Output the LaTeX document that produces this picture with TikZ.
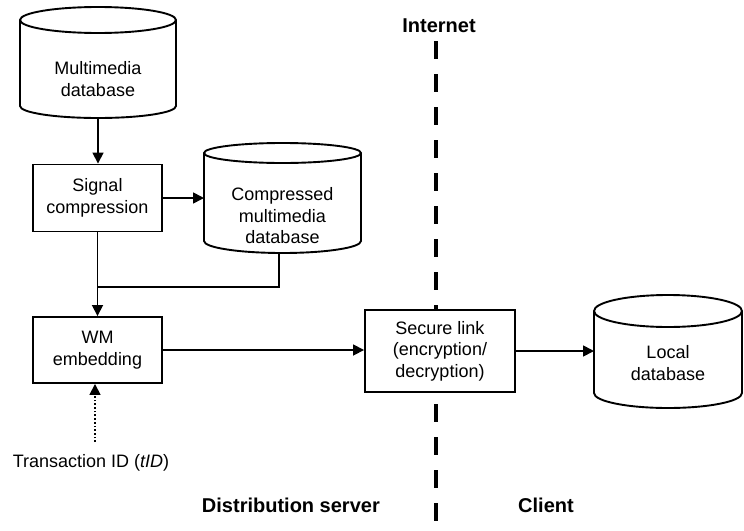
\documentclass[tikz,border=0pt]{standalone}
\usepackage{fontspec}
\setmainfont{Liberation Sans}
\usetikzlibrary{arrows.meta,calc}
\newcommand\dgreg{\fontsize{18}{21.5}\selectfont}
\newcommand\dgbold{\fontsize{20}{24}\selectfont\bfseries}
\newcommand\drawcyl[3]{%
  \draw[cylline] let \p1=(#1.north west), \p2=(#1.south east), \n1={(\x2-\x1)/2} in
    (\x1,\y1-#2) -- (\x1,\y2+#3)
    arc[start angle=180,end angle=360,x radius=\n1,y radius=#3]
    -- (\x2,\y1-#2)
    arc[start angle=0,end angle=180,x radius=\n1,y radius=#2] -- cycle
    (\x1,\y1-#2) arc[start angle=180,end angle=360,x radius=\n1,y radius=#2];%
}
\begin{document}
\begin{tikzpicture}[x=1pt,y=1pt,
  box/.style={draw, line width=1.9pt, fill=white, inner sep=0pt, align=center, font=\dgreg},
  body/.style={draw=none, inner sep=0pt, outer sep=0pt},
  cylline/.style={draw, line width=1.9pt, fill=white},
  txt/.style={align=center, font=\dgreg, inner sep=0pt},
  lbl/.style={font=\dgbold, inner sep=0pt},
  conn/.style={line width=1.7pt, -{Triangle[length=11pt,width=11pt]}},
  plain/.style={line width=1.7pt},
  dotconn/.style={line width=1.7pt, dotted, -{Triangle[length=11pt,width=11pt]}},
  netline/.style={line width=4pt, dash pattern=on 18pt off 15pt}
]
\useasboundingbox (0,0) rectangle (744,-530);

% internet boundary
\coordinate (nettop) at (436,-41);
\coordinate (netbot) at (436,-530);
\draw[netline] (nettop) -- (netbot);
\node[lbl] (internet) at (439,-26) {Internet};

% multimedia database
\node[body, minimum width=156pt, minimum height=111pt] (mmdb) at (98,-62.5) {};
\drawcyl{mmdb}{13pt}{12pt}
\node[txt] (mmdbt) at (98,-79) {Multimedia\\database};

% signal compression
\node[box, minimum width=129pt, minimum height=67pt] (sc) at (97.5,-198) {Signal\\compression};

% compressed multimedia database
\node[body, minimum width=157pt, minimum height=110pt] (cdb) at (282.5,-198) {};
\drawcyl{cdb}{10pt}{12pt}
\node[txt] (cdbt) at (282.5,-216) {Compressed\\multimedia\\database};

% WM embedding
\node[box, minimum width=129pt, minimum height=66pt] (wm) at (97.5,-350) {WM\\embedding};

% secure link
\node[box, minimum width=150pt, minimum height=82pt] (sl) at (440,-351) {Secure link\\(encryption/\\decryption)};

% local database
\node[body, minimum width=148pt, minimum height=113pt] (ldb) at (668,-351.5) {};
\drawcyl{ldb}{16pt}{15pt}
\node[txt] (ldbt) at (668,-363) {Local\\database};

% transaction ID
\node[txt] (tid) at (91,-463) {Transaction ID (\textit{tID})};
\coordinate (tidtop) at (95,-442);

% bottom labels
\node[lbl, anchor=east] (dist) at (380,-505) {Distribution server};
\node[lbl, anchor=west] (client) at (518,-505) {Client};

% connectors
\draw[conn] (mmdb.south) -- (mmdb.south |- sc.north);
\draw[conn] (sc.east) -- (sc.east -| cdb.west);
\draw[conn] (sc.south) -- (wm.north);
\coordinate (cdbout) at ([xshift=-3.5pt]cdb.south);
\coordinate (join) at (sc.south |- 0,-287);
\draw[plain] (cdbout) |- (join);
\draw[conn] (wm.east) -- (wm.east -| sl.west);
\draw[conn] (sl.east) -- (sl.east -| ldb.west);
\draw[dotconn] (tidtop) -- (tidtop |- wm.south);
\end{tikzpicture}
\end{document}
